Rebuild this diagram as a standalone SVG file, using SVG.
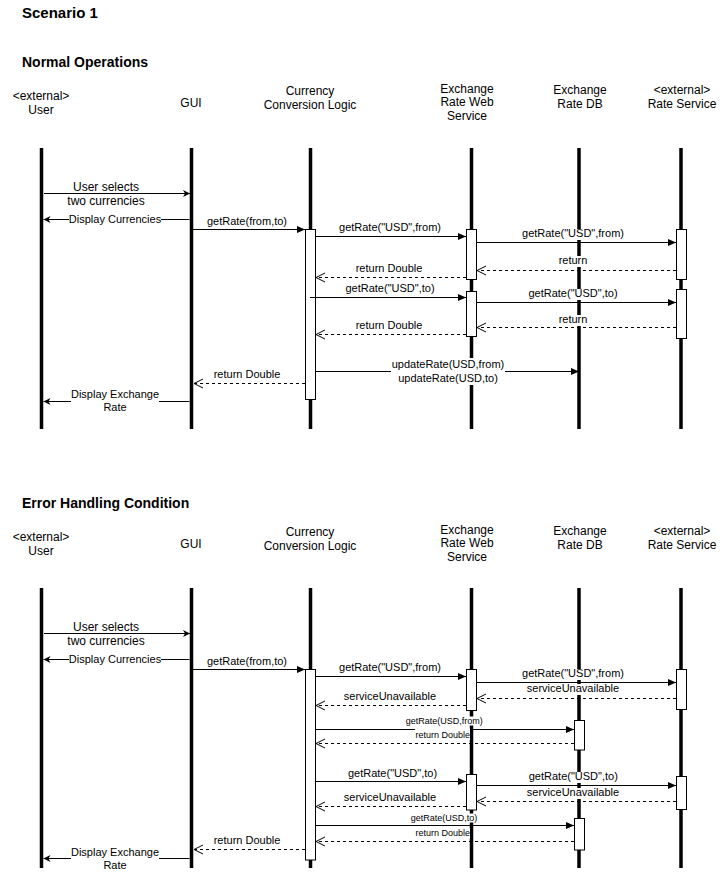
<svg xmlns="http://www.w3.org/2000/svg" width="722" height="872" viewBox="0 0 722 872">
  <defs>
    <style>
      text { font-family: "Liberation Sans", Arial, Helvetica, sans-serif; fill: #000; }
      .title { font-size: 15px; font-weight: bold; }
      .section { font-size: 14px; font-weight: bold; }
      .hdr { font-size: 12px; text-anchor: middle; }
      .lbl12 { font-size: 12px; text-anchor: middle; }
      .lbl { font-size: 11px; text-anchor: middle; }
      .lbl9 { font-size: 9px; text-anchor: middle; }
      .ll { stroke: #000; stroke-width: 3.5; }
      .act { fill: #fff; stroke: #000; stroke-width: 1; }
      .call { stroke: #000; stroke-width: 1; fill: none; marker-end: url(#solid); }
      .user { stroke: #000; stroke-width: 1; fill: none; marker-end: url(#classic); }
      .ret { stroke: #000; stroke-width: 1; fill: none; stroke-dasharray: 3 3; marker-end: url(#open); }
      .bg { fill: #fff; }
    </style>
    <marker id="solid" markerUnits="userSpaceOnUse" markerWidth="9" markerHeight="8" refX="8" refY="3.5" orient="auto" overflow="visible">
      <path d="M0,0 L8,3.5 L0,7 z" fill="#000"/>
    </marker>
    <marker id="classic" markerUnits="userSpaceOnUse" markerWidth="9" markerHeight="8" refX="7" refY="3.5" orient="auto" overflow="visible">
      <path d="M0,0 L7,3.5 L0,7 L2,3.5 z" fill="#000"/>
    </marker>
    <marker id="open" markerUnits="userSpaceOnUse" markerWidth="10" markerHeight="10" refX="9" refY="4.5" orient="auto" overflow="visible">
      <path d="M0,0 L9,4.5 L0,9" fill="none" stroke="#000" stroke-width="1"/>
    </marker>
  </defs>

  <rect width="722" height="872" fill="#fff"/>

  <text class="title" x="22" y="17.5">Scenario 1</text>

  <!-- ============ Normal Operations ============ -->
  <text class="section" x="22" y="67.3">Normal Operations</text>

  <g id="user-normal">
    <text class="hdr" x="41" y="100.3">&lt;external&gt;</text>
    <text class="hdr" x="41" y="114">User</text>
    <line class="ll" x1="41.5" y1="148" x2="41.5" y2="429"/>
  </g>
  <g id="gui-normal">
    <text class="hdr" x="191" y="107.3">GUI</text>
    <line class="ll" x1="191.5" y1="148" x2="191.5" y2="429"/>
  </g>
  <g id="logic-normal">
    <text class="hdr" x="310" y="95.3">Currency</text>
    <text class="hdr" x="310" y="109.3">Conversion Logic</text>
    <line class="ll" x1="310.5" y1="148" x2="310.5" y2="429"/>
    <rect class="act" x="305.5" y="229.5" width="10" height="170"/>
  </g>
  <g id="webservice-normal">
    <text class="hdr" x="467" y="92.5">Exchange</text>
    <text class="hdr" x="467" y="106">Rate Web</text>
    <text class="hdr" x="467" y="119.5">Service</text>
    <line class="ll" x1="471.5" y1="148" x2="471.5" y2="429"/>
    <rect class="act" x="466.5" y="229.5" width="10" height="50"/>
    <rect class="act" x="466.5" y="291.5" width="10" height="45"/>
  </g>
  <g id="ratedb-normal">
    <text class="hdr" x="580" y="94.3">Exchange</text>
    <text class="hdr" x="580" y="107.6">Rate DB</text>
    <line class="ll" x1="579" y1="148" x2="579" y2="429"/>
  </g>
  <g id="rateservice-normal">
    <text class="hdr" x="682" y="94.3">&lt;external&gt;</text>
    <text class="hdr" x="682" y="107.6">Rate Service</text>
    <line class="ll" x1="681" y1="148" x2="681" y2="429"/>
    <rect class="act" x="676.5" y="229.5" width="10" height="50"/>
    <rect class="act" x="676.5" y="289.5" width="10" height="49"/>
  </g>

  <g id="messages-normal">
    <path class="user" d="M44,193.5 H190"/>
    <text class="lbl12" x="106" y="191">User selects</text>
    <text class="lbl12" x="106" y="205">two currencies</text>

    <path class="user" d="M189.5,219.5 H43.5"/>
    <rect class="bg" x="69" y="213" width="92" height="13"/>
    <text class="lbl" x="115" y="223.3">Display Currencies</text>

    <path class="call" d="M193,229.5 H305"/>
    <text class="lbl" x="247" y="224.7">getRate(from,to)</text>

    <path class="call" d="M315.5,236.5 H466"/>
    <text class="lbl" x="390" y="230.7">getRate("USD",from)</text>

    <path class="call" d="M476.5,242.5 H676"/>
    <rect class="bg" x="522" y="229" width="102" height="11"/>
    <text class="lbl" x="573" y="237">getRate("USD",from)</text>

    <path class="ret" d="M676,270.5 H477"/>
    <rect class="bg" x="556" y="256" width="34" height="11"/>
    <text class="lbl" x="573" y="264">return</text>

    <path class="ret" d="M466,277.5 H316"/>
    <text class="lbl" x="389" y="272">return Double</text>

    <path class="call" d="M310,297.5 H466"/>
    <text class="lbl" x="390" y="292">getRate("USD",to)</text>

    <path class="call" d="M476.5,302.5 H676"/>
    <rect class="bg" x="529" y="289" width="88" height="11"/>
    <text class="lbl" x="573" y="297">getRate("USD",to)</text>

    <path class="ret" d="M676,327.5 H477"/>
    <rect class="bg" x="556" y="315" width="34" height="11"/>
    <text class="lbl" x="573" y="323">return</text>

    <path class="ret" d="M466,334.5 H316"/>
    <text class="lbl" x="389" y="329">return Double</text>

    <path class="call" d="M315.5,371.5 H579"/>
    <rect class="bg" x="391" y="358" width="114" height="27"/>
    <text class="lbl" x="448" y="368.3">updateRate(USD,from)</text>
    <text class="lbl" x="448" y="381.7">updateRate(USD,to)</text>

    <path class="ret" d="M305,383.5 H194"/>
    <text class="lbl" x="247" y="378">return Double</text>

    <path class="user" d="M189.5,401.5 H43.5"/>
    <rect class="bg" x="71" y="388" width="88" height="27"/>
    <text class="lbl" x="115" y="398.3">Display Exchange</text>
    <text class="lbl" x="115" y="411.3">Rate</text>
  </g>

  <!-- ============ Error Handling Condition ============ -->
  <text class="section" x="22" y="508.3">Error Handling Condition</text>

  <g id="user-error">
    <text class="hdr" x="41" y="541.3">&lt;external&gt;</text>
    <text class="hdr" x="41" y="555">User</text>
    <line class="ll" x1="41.5" y1="588" x2="41.5" y2="868"/>
  </g>
  <g id="gui-error">
    <text class="hdr" x="191" y="548.3">GUI</text>
    <line class="ll" x1="191.5" y1="588" x2="191.5" y2="868"/>
  </g>
  <g id="logic-error">
    <text class="hdr" x="310" y="536.3">Currency</text>
    <text class="hdr" x="310" y="550.3">Conversion Logic</text>
    <line class="ll" x1="310.5" y1="588" x2="310.5" y2="868"/>
    <rect class="act" x="305.5" y="669.5" width="10" height="190.5"/>
  </g>
  <g id="webservice-error">
    <text class="hdr" x="467" y="533.5">Exchange</text>
    <text class="hdr" x="467" y="547">Rate Web</text>
    <text class="hdr" x="467" y="560.5">Service</text>
    <line class="ll" x1="471.5" y1="588" x2="471.5" y2="868"/>
    <rect class="act" x="466.5" y="669.5" width="10" height="41"/>
    <rect class="act" x="466.5" y="774.5" width="10" height="35.5"/>
  </g>
  <g id="ratedb-error">
    <text class="hdr" x="580" y="535.3">Exchange</text>
    <text class="hdr" x="580" y="548.6">Rate DB</text>
    <line class="ll" x1="579" y1="588" x2="579" y2="868"/>
    <rect class="act" x="574.5" y="720.5" width="10" height="29.5"/>
    <rect class="act" x="574.5" y="818.5" width="10" height="31.5"/>
  </g>
  <g id="rateservice-error">
    <text class="hdr" x="682" y="535.3">&lt;external&gt;</text>
    <text class="hdr" x="682" y="548.6">Rate Service</text>
    <line class="ll" x1="681" y1="588" x2="681" y2="868"/>
    <rect class="act" x="676.5" y="669.5" width="10" height="40"/>
    <rect class="act" x="676.5" y="776.5" width="10" height="33"/>
  </g>

  <g id="messages-error">
    <path class="user" d="M44,633.5 H190"/>
    <text class="lbl12" x="106" y="631">User selects</text>
    <text class="lbl12" x="106" y="645">two currencies</text>

    <path class="user" d="M189.5,659.5 H43.5"/>
    <rect class="bg" x="69" y="653" width="92" height="13"/>
    <text class="lbl" x="115" y="663.3">Display Currencies</text>

    <path class="call" d="M193,669.5 H305"/>
    <text class="lbl" x="247" y="664.7">getRate(from,to)</text>

    <path class="call" d="M315.5,676.5 H466"/>
    <text class="lbl" x="390" y="670.7">getRate("USD",from)</text>

    <path class="call" d="M476.5,682.5 H676"/>
    <rect class="bg" x="522" y="669" width="102" height="11"/>
    <text class="lbl" x="573" y="677.3">getRate("USD",from)</text>

    <path class="ret" d="M676,698.5 H477"/>
    <rect class="bg" x="526" y="684" width="94" height="11"/>
    <text class="lbl" x="573" y="691.7">serviceUnavailable</text>

    <path class="ret" d="M466,705.5 H316"/>
    <text class="lbl" x="390" y="699.7">serviceUnavailable</text>

    <path class="call" d="M315.5,729.5 H574"/>
    <rect class="bg" x="406" y="716.5" width="77" height="9"/>
    <text class="lbl9" x="444.3" y="723.9">getRate(USD,from)</text>

    <path class="ret" d="M574,743.5 H316"/>
    <rect class="bg" x="415" y="728.5" width="55" height="11.5"/>
    <text class="lbl9" x="442.8" y="737.5">return Double</text>

    <path class="call" d="M315.5,781.5 H466"/>
    <text class="lbl" x="392.5" y="776.7">getRate("USD",to)</text>

    <path class="call" d="M476.5,785.5 H676"/>
    <rect class="bg" x="529" y="772" width="88" height="11"/>
    <text class="lbl" x="573.3" y="780">getRate("USD",to)</text>

    <path class="ret" d="M676,801.5 H477"/>
    <rect class="bg" x="526" y="788" width="94" height="11"/>
    <text class="lbl" x="573" y="796.3">serviceUnavailable</text>

    <path class="ret" d="M466,806.5 H316"/>
    <text class="lbl" x="390" y="801.3">serviceUnavailable</text>

    <path class="call" d="M315.5,825.5 H574"/>
    <rect class="bg" x="410" y="813.5" width="68" height="9"/>
    <text class="lbl9" x="444" y="820.5">getRate(USD,to)</text>

    <path class="ret" d="M574,841.5 H316"/>
    <rect class="bg" x="415" y="828.5" width="55" height="10"/>
    <text class="lbl9" x="442.8" y="835.9">return Double</text>

    <path class="ret" d="M305,849.5 H194"/>
    <text class="lbl" x="247" y="844">return Double</text>

    <path class="user" d="M189.5,858.5 H43.5"/>
    <rect class="bg" x="71" y="845" width="88" height="27"/>
    <text class="lbl" x="115" y="855.7">Display Exchange</text>
    <text class="lbl" x="115" y="868.7">Rate</text>
  </g>
</svg>
